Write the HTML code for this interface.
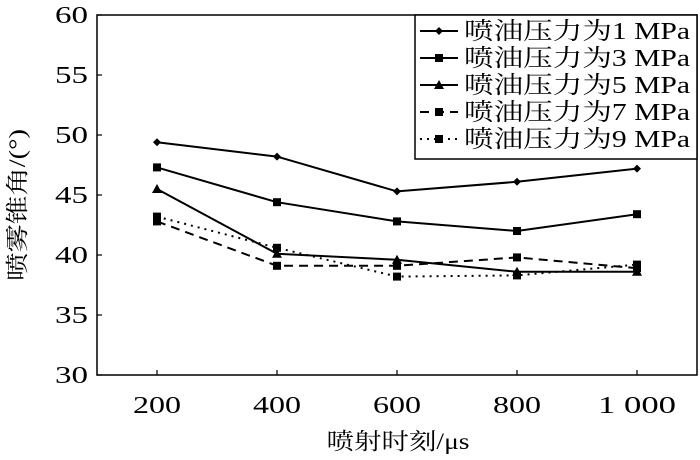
<!DOCTYPE html>
<html><head><meta charset="utf-8"><style>
body{margin:0;background:#fff}
svg{display:block;font-family:"Liberation Serif","Noto Serif CJK SC",serif}
</style></head><body>
<svg id="c" width="700" height="460"></svg>
<script>
const categories=[200,400,600,800,1000];
const xTickLabels=["200","400","600","800","1 000"];
const yTicks=[30,35,40,45,50,55,60];
const series1=[49.4,48.2,45.3,46.1,47.2];
const series3=[47.3,44.4,42.8,42.0,43.4];
const series5=[45.5,40.1,39.6,38.6,38.6];
const series7=[42.8,39.1,39.1,39.8,38.9];
const series9=[43.2,40.6,38.2,38.3,39.2];
const seriesNames=["喷油压力为1 MPa","喷油压力为3 MPa","喷油压力为5 MPa","喷油压力为7 MPa","喷油压力为9 MPa"];
const NS="http://www.w3.org/2000/svg",svg=document.getElementById('c');
const L=97,R=697,T=15,B=375;
const x=v=>L+(v-100)/1000*(R-L);
const y=v=>B-(v-30)/30*(B-T);
function mk(t,a,p){const e=document.createElementNS(NS,t);for(const k in a)e.setAttribute(k,a[k]);(p||svg).appendChild(e);return e;}
const frame=mk('rect',{x:L,y:T,width:R-L,height:B-T,fill:'none',stroke:'#000','stroke-width':1.5});


yTicks.forEach(v=>{
 mk('line',{x1:L,x2:L+5,y1:y(v),y2:y(v),stroke:'#000','stroke-width':1.2});
 const t=mk('text',{x:L-9,y:y(v)+8,'text-anchor':'end','font-size':24,textLength:33,lengthAdjust:'spacingAndGlyphs'});t.textContent=v;
 
 
});
categories.forEach((c,i)=>{
 mk('line',{x1:x(c),x2:x(c),y1:B,y2:B-5,stroke:'#000','stroke-width':1.2});
 const w=xTickLabels[i].length>3?78:48;
 const t=mk('text',{x:x(c),y:B+38,'text-anchor':'middle','font-size':24,textLength:w,lengthAdjust:'spacingAndGlyphs'});t.textContent=xTickLabels[i];
 
 
});
const xt=mk('text',{x:398,y:449,'text-anchor':'middle','font-size':23,textLength:143,lengthAdjust:'spacingAndGlyphs'});xt.textContent='喷射时刻/μs';


const yt=mk('text',{x:0,y:0,'text-anchor':'middle','font-size':23,textLength:152,lengthAdjust:'spacingAndGlyphs',transform:'translate(25,205) rotate(-90)'});yt.textContent='喷雾锥角/(°)';


const all=[series1,series3,series5,series7,series9];
const dashes=['none','none','none','9,6','2,5'];
const markers=['diamond','square','triangle','square','square'];
function marker(type,cx,cy,g){
 if(type==='diamond')mk('path',{d:`M${cx} ${cy-4}L${cx+4} ${cy}L${cx} ${cy+4}L${cx-4} ${cy}Z`},g);
 else if(type==='square')mk('rect',{x:cx-4,y:cy-4,width:8,height:8},g);
 else mk('path',{d:`M${cx} ${cy-5}L${cx+5} ${cy+4}L${cx-5} ${cy+4}Z`},g);
}
all.forEach((s,si)=>{
 const g=mk('g',{fill:'#000'});
 
 
 mk('polyline',{points:s.map((v,i)=>x(categories[i])+','+y(v)).join(' '),fill:'none',stroke:'#000','stroke-width':2,'stroke-dasharray':dashes[si]},g);
 s.forEach((v,i)=>marker(markers[si],x(categories[i]),y(v),g));
});
const lg=mk('g',{});


mk('rect',{x:415,y:15,width:282,height:144,fill:'#fff',stroke:'#000','stroke-width':1.5},lg);
seriesNames.forEach((n,i)=>{
 const yy=35+i*27;
 const e=mk('g',{fill:'#000'},lg);
 
 
 mk('line',{x1:420,x2:458,y1:yy-4,y2:yy-4,stroke:'#000','stroke-width':2,'stroke-dasharray':dashes[i]},e);
 marker(markers[i],439,yy-4,e);
 const t=mk('text',{x:464,y:yy+4,'font-size':24,textLength:226,lengthAdjust:'spacingAndGlyphs'},e);t.textContent=n;
});
</script>
</body></html>
